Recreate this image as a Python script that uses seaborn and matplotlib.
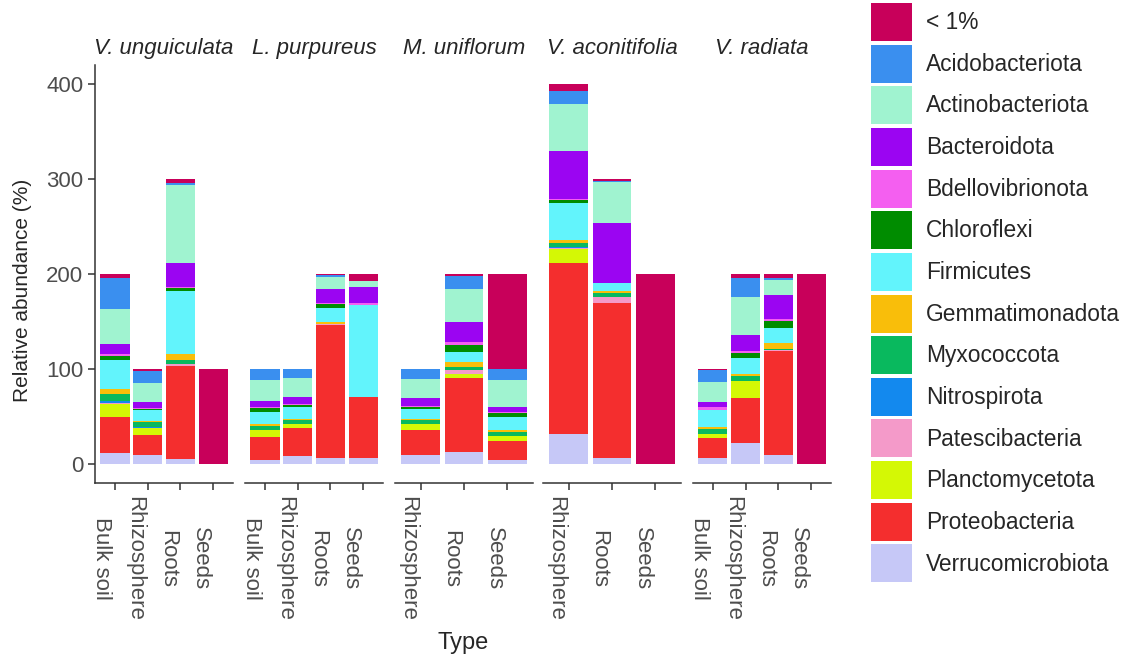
"""Stacked phylum composition per legume species and compartment."""

import matplotlib
matplotlib.use("Agg")
import matplotlib.pyplot as plt
from matplotlib.patches import Patch
from matplotlib.transforms import ScaledTranslation
import pandas as pd
import seaborn as sns

# legend order = top of stack first
PHYLA = [
    "< 1%", "Acidobacteriota", "Actinobacteriota", "Bacteroidota",
    "Bdellovibrionota", "Chloroflexi", "Firmicutes", "Gemmatimonadota",
    "Myxococcota", "Nitrospirota", "Patescibacteria", "Planctomycetota",
    "Proteobacteria", "Verrucomicrobiota",
]
COLORS = [
    "#C8005A", "#3A8FEF", "#A0F3D0", "#9B05F2",
    "#F45FF0", "#008C00", "#62F4FC", "#F9BE0A",
    "#09B95E", "#1389EE", "#F49AC9", "#D4F805",
    "#F42E2E", "#C6C8F7",
]

SPECIES = ["V. unguiculata", "L. purpureus", "M. uniflorum",
           "V. aconitifolia", "V. radiata"]

# abundance per phylum (PHYLA order), one list per sample type
UNGUICULATA_TYPES = ["Bulk soil", "Rhizosphere", "Roots", "Seeds"]
UNGUICULATA = [
    [4, 33, 37, 10, 2, 5, 30, 5, 8, 2, 1, 14, 37, 12],
    [2, 13, 20, 6, 1, 1, 12, 1, 5, 1, 0, 7, 21, 10],
    [4, 2, 82, 26, 1, 3, 66, 6, 5, 0, 2, 0, 98, 5],
    [100, 0, 0, 0, 0, 0, 0, 0, 0, 0, 0, 0, 0, 0],
]

PURPUREUS_TYPES = ["Bulk soil", "Rhizosphere", "Roots", "Seeds"]
PURPUREUS = [
    [0, 12, 22, 6, 1, 4, 13, 2, 4, 0, 0, 8, 24, 4],
    [0, 9, 20, 8, 1, 2, 13, 1, 4, 0, 0, 4, 30, 8],
    [1, 2, 13, 15, 1, 4, 14, 3, 0, 0, 1, 0, 140, 6],
    [7, 0, 7, 17, 2, 0, 96, 0, 0, 0, 0, 0, 65, 6],
]

UNIFLORUM_TYPES = ["Rhizosphere", "Roots", "Seeds"]
UNIFLORUM = [
    [0, 11, 19, 9, 1, 2, 11, 1, 4, 0, 0, 6, 27, 9],
    [2, 14, 35, 21, 3, 7, 11, 5, 3, 0, 4, 4, 78, 13],
    [100, 12, 28, 5, 1, 4, 14, 2, 4, 1, 0, 5, 20, 4],
]

ACONITIFOLIA_TYPES = ["Rhizosphere", "Roots", "Seeds"]
ACONITIFOLIA = [
    [7, 14, 49, 51, 1, 3, 39, 3, 5, 1, 1, 14, 180, 32],
    [2, 1, 43, 63, 0, 0, 9, 2, 4, 0, 7, 0, 163, 6],
    [200, 0, 0, 0, 0, 0, 0, 0, 0, 0, 0, 0, 0, 0],
]

RADIATA_TYPES = ["Bulk soil", "Rhizosphere", "Roots", "Seeds"]
RADIATA = [
    [1, 13, 21, 5, 3, 0, 18, 2, 5, 0, 0, 5, 21, 6],
    [4, 20, 40, 17, 2, 5, 17, 2, 6, 0, 0, 17, 48, 22],
    [4, 2, 16, 25, 2, 8, 16, 6, 1, 0, 1, 0, 110, 9],
    [200, 0, 0, 0, 0, 0, 0, 0, 0, 0, 0, 0, 0, 0],
]

FACETS = [
    (UNGUICULATA_TYPES, UNGUICULATA),
    (PURPUREUS_TYPES, PURPUREUS),
    (UNIFLORUM_TYPES, UNIFLORUM),
    (ACONITIFOLIA_TYPES, ACONITIFOLIA),
    (RADIATA_TYPES, RADIATA),
]


def long_table(types, values):
    rows = []
    for t, vals in zip(types, values):
        for ph, v in zip(PHYLA, vals):
            rows.append({"Type": t, "Phylum": ph, "Abundance": v})
    df = pd.DataFrame(rows)
    df["Type"] = pd.Categorical(df["Type"], categories=types)
    return df


sns.set_style("ticks")
plt.rcParams["font.family"] = ["Liberation Sans", "DejaVu Sans"]

W, H = 1134, 661
fig = plt.figure(figsize=(W / 100, H / 100), dpi=100)

PANEL_LEFT = [95, 245, 395, 543, 693]
PANEL_W, PANEL_TOP, PANEL_BOTTOM = 138, 65, 483

for i, (species, (types, values)) in enumerate(zip(SPECIES, FACETS)):
    ax = fig.add_axes([PANEL_LEFT[i] / W, 1 - PANEL_BOTTOM / H,
                       PANEL_W / W, (PANEL_BOTTOM - PANEL_TOP) / H])
    sns.histplot(
        data=long_table(types, values), x="Type", hue="Phylum",
        weights="Abundance", hue_order=PHYLA, palette=COLORS,
        multiple="stack", discrete=True, shrink=0.9,
        alpha=1, linewidth=0, legend=False, ax=ax,
    )
    ax.set_xlim(-0.6, len(types) - 0.4)
    ax.set_ylim(-20, 420)
    ax.set_xlabel("")
    ax.set_ylabel("")
    ax.set_title(species, style="italic", fontsize=16, pad=8)

    for side in ("top", "right"):
        ax.spines[side].set_visible(False)
    ax.spines["bottom"].set_linewidth(1.1)
    ax.spines["bottom"].set_color("#333333")
    if i == 0:
        ax.spines["left"].set_linewidth(1.1)
        ax.spines["left"].set_color("#333333")
        ax.set_yticks([0, 100, 200, 300, 400])
        ax.tick_params(axis="y", labelsize=16, labelcolor="#4D4D4D",
                       color="#333333", length=5, width=1.1)
    else:
        ax.spines["left"].set_visible(False)
        ax.tick_params(axis="y", left=False, labelleft=False)

    ax.set_xticks(range(len(types)))
    ax.set_xticklabels(types, rotation=-90, ha="center", va="center")
    ax.tick_params(axis="x", labelsize=16, labelcolor="#4D4D4D",
                   color="#333333", length=5, width=1.1)
    shift = ScaledTranslation(-0.13, -0.64, fig.dpi_scale_trans)
    for lab in ax.get_xticklabels():
        lab.set_transform(lab.get_transform() + shift)

fig.text(23 / W, 1 - 290 / H, "Relative abundance (%)", rotation=90,
         ha="center", va="center", fontsize=15)
fig.text(463 / W, 1 - 643 / H, "Type", ha="center", va="center",
         fontsize=17)

handles = [Patch(facecolor=c, edgecolor="none", label=p)
           for p, c in zip(PHYLA, COLORS)]
fig.legend(
    handles=handles, loc="upper left", bbox_to_anchor=(871 / W, 1 - 3 / H),
    frameon=False, fontsize=16.4, handlelength=1.8, handleheight=2.19,
    labelspacing=0.16, handletextpad=0.61, borderpad=0, borderaxespad=0,
)

fig.savefig("out.png", dpi=100)
